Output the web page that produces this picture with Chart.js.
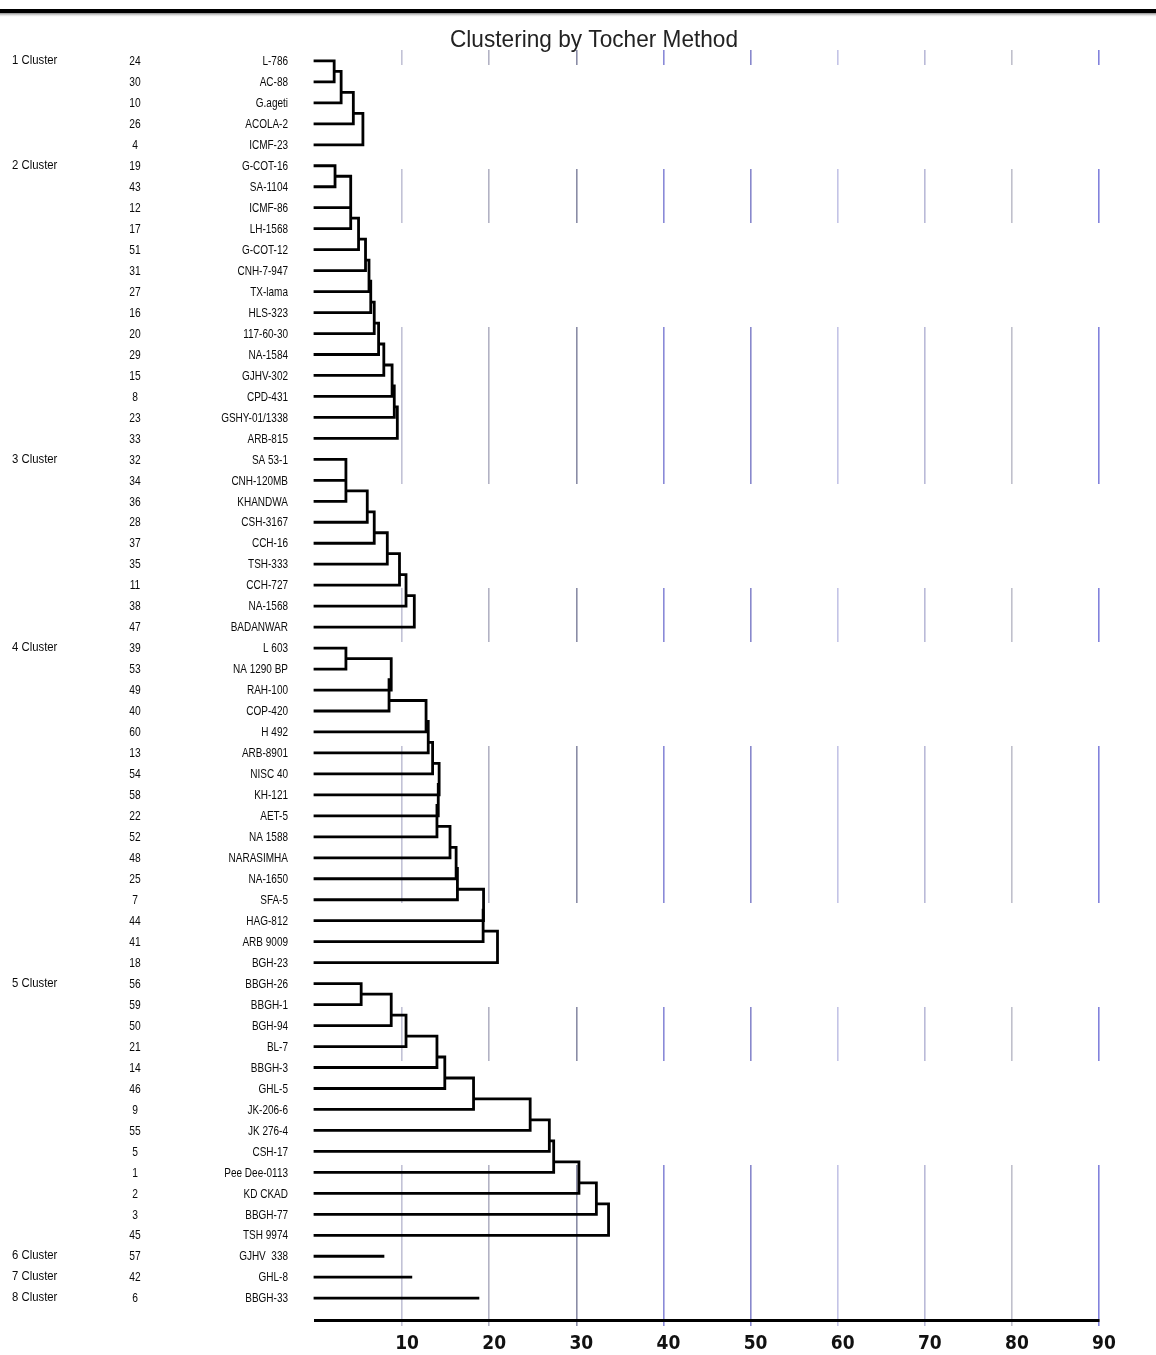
<!DOCTYPE html>
<html>
<head>
<meta charset="utf-8">
<script src="https://cdn.jsdelivr.net/npm/chart.js@4.4.1/dist/chart.umd.min.js"></script>
<style>
  html, body { margin: 0; padding: 0; background: #ffffff; }
  #wrap { width: 1156px; height: 1355px; position: relative; }
</style>
</head>
<body>
<div id="wrap"><canvas id="c" width="1156" height="1355"></canvas></div>
<script>
// ---------------- DATA ----------------
const chartTitle = 'Clustering by Tocher Method';
const clusterLabels = ['1 Cluster', '2 Cluster', '3 Cluster', '4 Cluster', '5 Cluster', '6 Cluster', '7 Cluster', '8 Cluster'];

const c1Ids = [24, 30, 10, 26, 4];
const c1Names = ['L-786', 'AC-88', 'G.ageti', 'ACOLA-2', 'ICMF-23'];
const c1Joins = [2.2, 3.0, 4.4, 5.5];

const c2Ids = [19, 43, 12, 17, 51, 31, 27, 16, 20, 29, 15, 8, 23, 33];
const c2Names = ['G-COT-16', 'SA-1104', 'ICMF-86', 'LH-1568', 'G-COT-12', 'CNH-7-947', 'TX-lama', 'HLS-323', '117-60-30', 'NA-1584', 'GJHV-302', 'CPD-431', 'GSHY-01/1338', 'ARB-815'];
const c2Joins = [2.3, 4.1, 4.1, 5.0, 5.8, 6.2, 6.4, 6.8, 7.3, 7.9, 8.85, 9.1, 9.45];

const c3Ids = [32, 34, 36, 28, 37, 35, 11, 38, 47];
const c3Names = ['SA 53-1', 'CNH-120MB', 'KHANDWA', 'CSH-3167', 'CCH-16', 'TSH-333', 'CCH-727', 'NA-1568', 'BADANWAR'];
const c3Joins = [3.55, 3.55, 6.0, 6.8, 8.3, 9.7, 10.45, 11.4];

const c4Ids = [39, 53, 49, 40, 60, 13, 54, 58, 22, 52, 48, 25, 7, 44, 41, 18];
const c4Names = ['L 603', 'NA 1290 BP', 'RAH-100', 'COP-420', 'H 492', 'ARB-8901', 'NISC 40', 'KH-121', 'AET-5', 'NA 1588', 'NARASIMHA', 'NA-1650', 'SFA-5', 'HAG-812', 'ARB 9009', 'BGH-23'];
const c4Joins = [3.55, 8.75, 8.5, 12.75, 13.0, 13.5, 14.25, 14.15, 14.0, 15.5, 16.2, 16.35, 19.35, 19.3, 20.95];

const c5Ids = [56, 59, 50, 21, 14, 46, 9, 55, 5, 1, 2, 3, 45];
const c5Names = ['BBGH-26', 'BBGH-1', 'BGH-94', 'BL-7', 'BBGH-3', 'GHL-5', 'JK-206-6', 'JK 276-4', 'CSH-17', 'Pee Dee-0113', 'KD CKAD', 'BBGH-77', 'TSH 9974'];
const c5Joins = [5.3, 8.75, 10.45, 14.0, 14.9, 18.2, 24.7, 26.9, 27.4, 30.3, 32.3, 33.7];

const c6Ids = [57];
const c6Names = ['GJHV  338'];
const c6Joins = [7.8];

const c7Ids = [42];
const c7Names = ['GHL-8'];
const c7Joins = [11.0];

const c8Ids = [6];
const c8Names = ['BBGH-33'];
const c8Joins = [18.7];

const xTickValues = [0, 10, 20, 30, 40, 50, 60, 70, 80, 90];

// ---------------- BUILD ----------------
const clusterDefs = [
  [c1Ids, c1Names, c1Joins], [c2Ids, c2Names, c2Joins], [c3Ids, c3Names, c3Joins],
  [c4Ids, c4Names, c4Joins], [c5Ids, c5Names, c5Joins], [c6Ids, c6Names, c6Joins],
  [c7Ids, c7Names, c7Joins], [c8Ids, c8Names, c8Joins]
];

const rows = [];
const datasets = [];
let rowIdx = 0;
clusterDefs.forEach((def, ci) => {
  const [ids, names, joins] = def;
  const start = rowIdx;
  ids.forEach((id, k) => rows.push({ id: String(id), name: names[k], cluster: k === 0 ? clusterLabels[ci] : '' }));
  const pts = [];
  const seg = (x1, y1, x2, y2) => { pts.push({ x: x1, y: y1 }, { x: x2, y: y2 }, { x: NaN, y: NaN }); };
  const n = ids.length;
  if (n === 1) {
    seg(0, start, joins[0], start);
  } else {
    seg(0, start, joins[0], start);
    seg(0, start + 1, joins[0], start + 1);
    seg(joins[0], start, joins[0], start + 1);
    let nodeY = start + 0.5, nodeX = joins[0];
    for (let k = 2; k < n; k++) {
      const hk = joins[k - 1], yk = start + k;
      seg(0, yk, hk, yk);
      seg(nodeX, nodeY, hk, nodeY);
      seg(hk, nodeY, hk, yk);
      nodeY = start + k - 0.5;
      nodeX = hk;
    }
  }
  rowIdx += n;
  datasets.push({
    label: clusterLabels[ci],
    data: pts,
    showLine: true,
    spanGaps: false,
    borderColor: '#000000',
    borderWidth: 2.8,
    borderCapStyle: 'square',
    borderJoinStyle: 'miter',
    pointRadius: 0,
    pointHoverRadius: 0,
    fill: false,
    tension: 0,
    clip: false
  });
});

const gridColorMap = { 10: '#c2c2d6', 20: '#b2b2c4', 30: '#8a8ca6', 40: '#8a8ad8', 50: '#8888cc', 60: '#c4c4e6', 70: '#babad8', 80: '#c0c0cc', 90: '#8282dc' };
const gridColor = (ctx) => gridColorMap[ctx.tick && ctx.tick.value] || 'rgba(0,0,0,0)';

function narrowText(ctx, text, x, y, align, size, sx, weight) {
  ctx.save();
  ctx.translate(x, y);
  ctx.scale(sx, 1);
  ctx.font = (weight || 'normal') + ' ' + size + 'px "Liberation Sans", Arial, sans-serif';
  ctx.textAlign = align;
  ctx.fillText(text, 0, 0);
  ctx.restore();
}

const decorPlugin = {
  id: 'decor',
  beforeDraw(chart) {
    const ctx = chart.ctx;
    ctx.save();
    ctx.fillStyle = '#000';
    ctx.fillRect(0, 9, chart.width, 4);
    const g = ctx.createLinearGradient(0, 13, 0, 17);
    g.addColorStop(0, 'rgba(90,90,90,0.7)');
    g.addColorStop(1, 'rgba(200,200,200,0)');
    ctx.fillStyle = g;
    ctx.fillRect(0, 13, chart.width, 4);
    ctx.restore();
  },
  afterDraw(chart) {
    const ctx = chart.ctx;
    const ys = chart.scales.y;
    ctx.save();
    ctx.fillStyle = '#0a0a0a';
    ctx.textBaseline = 'middle';
    rows.forEach((r, i) => {
      const y = ys.getPixelForValue(i) + 0.5;
      if (r.cluster) narrowText(ctx, r.cluster, 12, y - 1, 'left', 13.5, 0.84);
      narrowText(ctx, r.id, 135, y, 'center', 13.5, 0.76);
      narrowText(ctx, r.name, 288, y, 'right', 13.5, 0.74);
    });
    // title
    ctx.font = 'normal 24px "Liberation Sans", Arial, sans-serif';
    const w = ctx.measureText(chartTitle).width;
    ctx.fillStyle = '#222';
    ctx.textBaseline = 'alphabetic';
    narrowText(ctx, chartTitle, 594, 47, 'center', 24, 288 / w);
    ctx.restore();
  }
};

new Chart(document.getElementById('c'), {
  type: 'scatter',
  data: { datasets },
  options: {
    responsive: false,
    animation: false,
    events: [],
    devicePixelRatio: 1,
    layout: { padding: { left: 315, right: 57, top: 50, bottom: 0 } },
    plugins: { legend: { display: false }, title: { display: false }, tooltip: { enabled: false } },
    scales: {
      x: {
        type: 'linear',
        position: 'bottom',
        min: 0,
        max: 90,
        afterBuildTicks: (scale) => { scale.ticks = xTickValues.map(v => ({ value: v })); },
        afterFit: (scale) => { scale.height = 35; },
        ticks: {
          callback: (v) => (v === 0 ? '' : String(v)),
          labelOffset: 5,
          padding: 7,
          maxRotation: 0,
          autoSkip: false,
          color: '#111',
          font: { family: '"Liberation Sans Narrow", "DejaVu Sans Condensed", "Liberation Sans", Arial, sans-serif', size: 19, weight: 'bold' }
        },
        grid: {
          color: gridColor,
          tickColor: gridColor,
          lineWidth: 1.6,
          tickWidth: 1.6,
          tickLength: 6,
          drawTicks: true
        },
        border: { display: true, color: '#000', width: 3, dash: [157, 104, 54, 104], dashOffset: 142 }
      },
      y: {
        type: 'linear',
        display: false,
        reverse: true,
        min: -0.52,
        max: 60.04
      }
    }
  },
  plugins: [decorPlugin]
});
</script>
</body>
</html>
